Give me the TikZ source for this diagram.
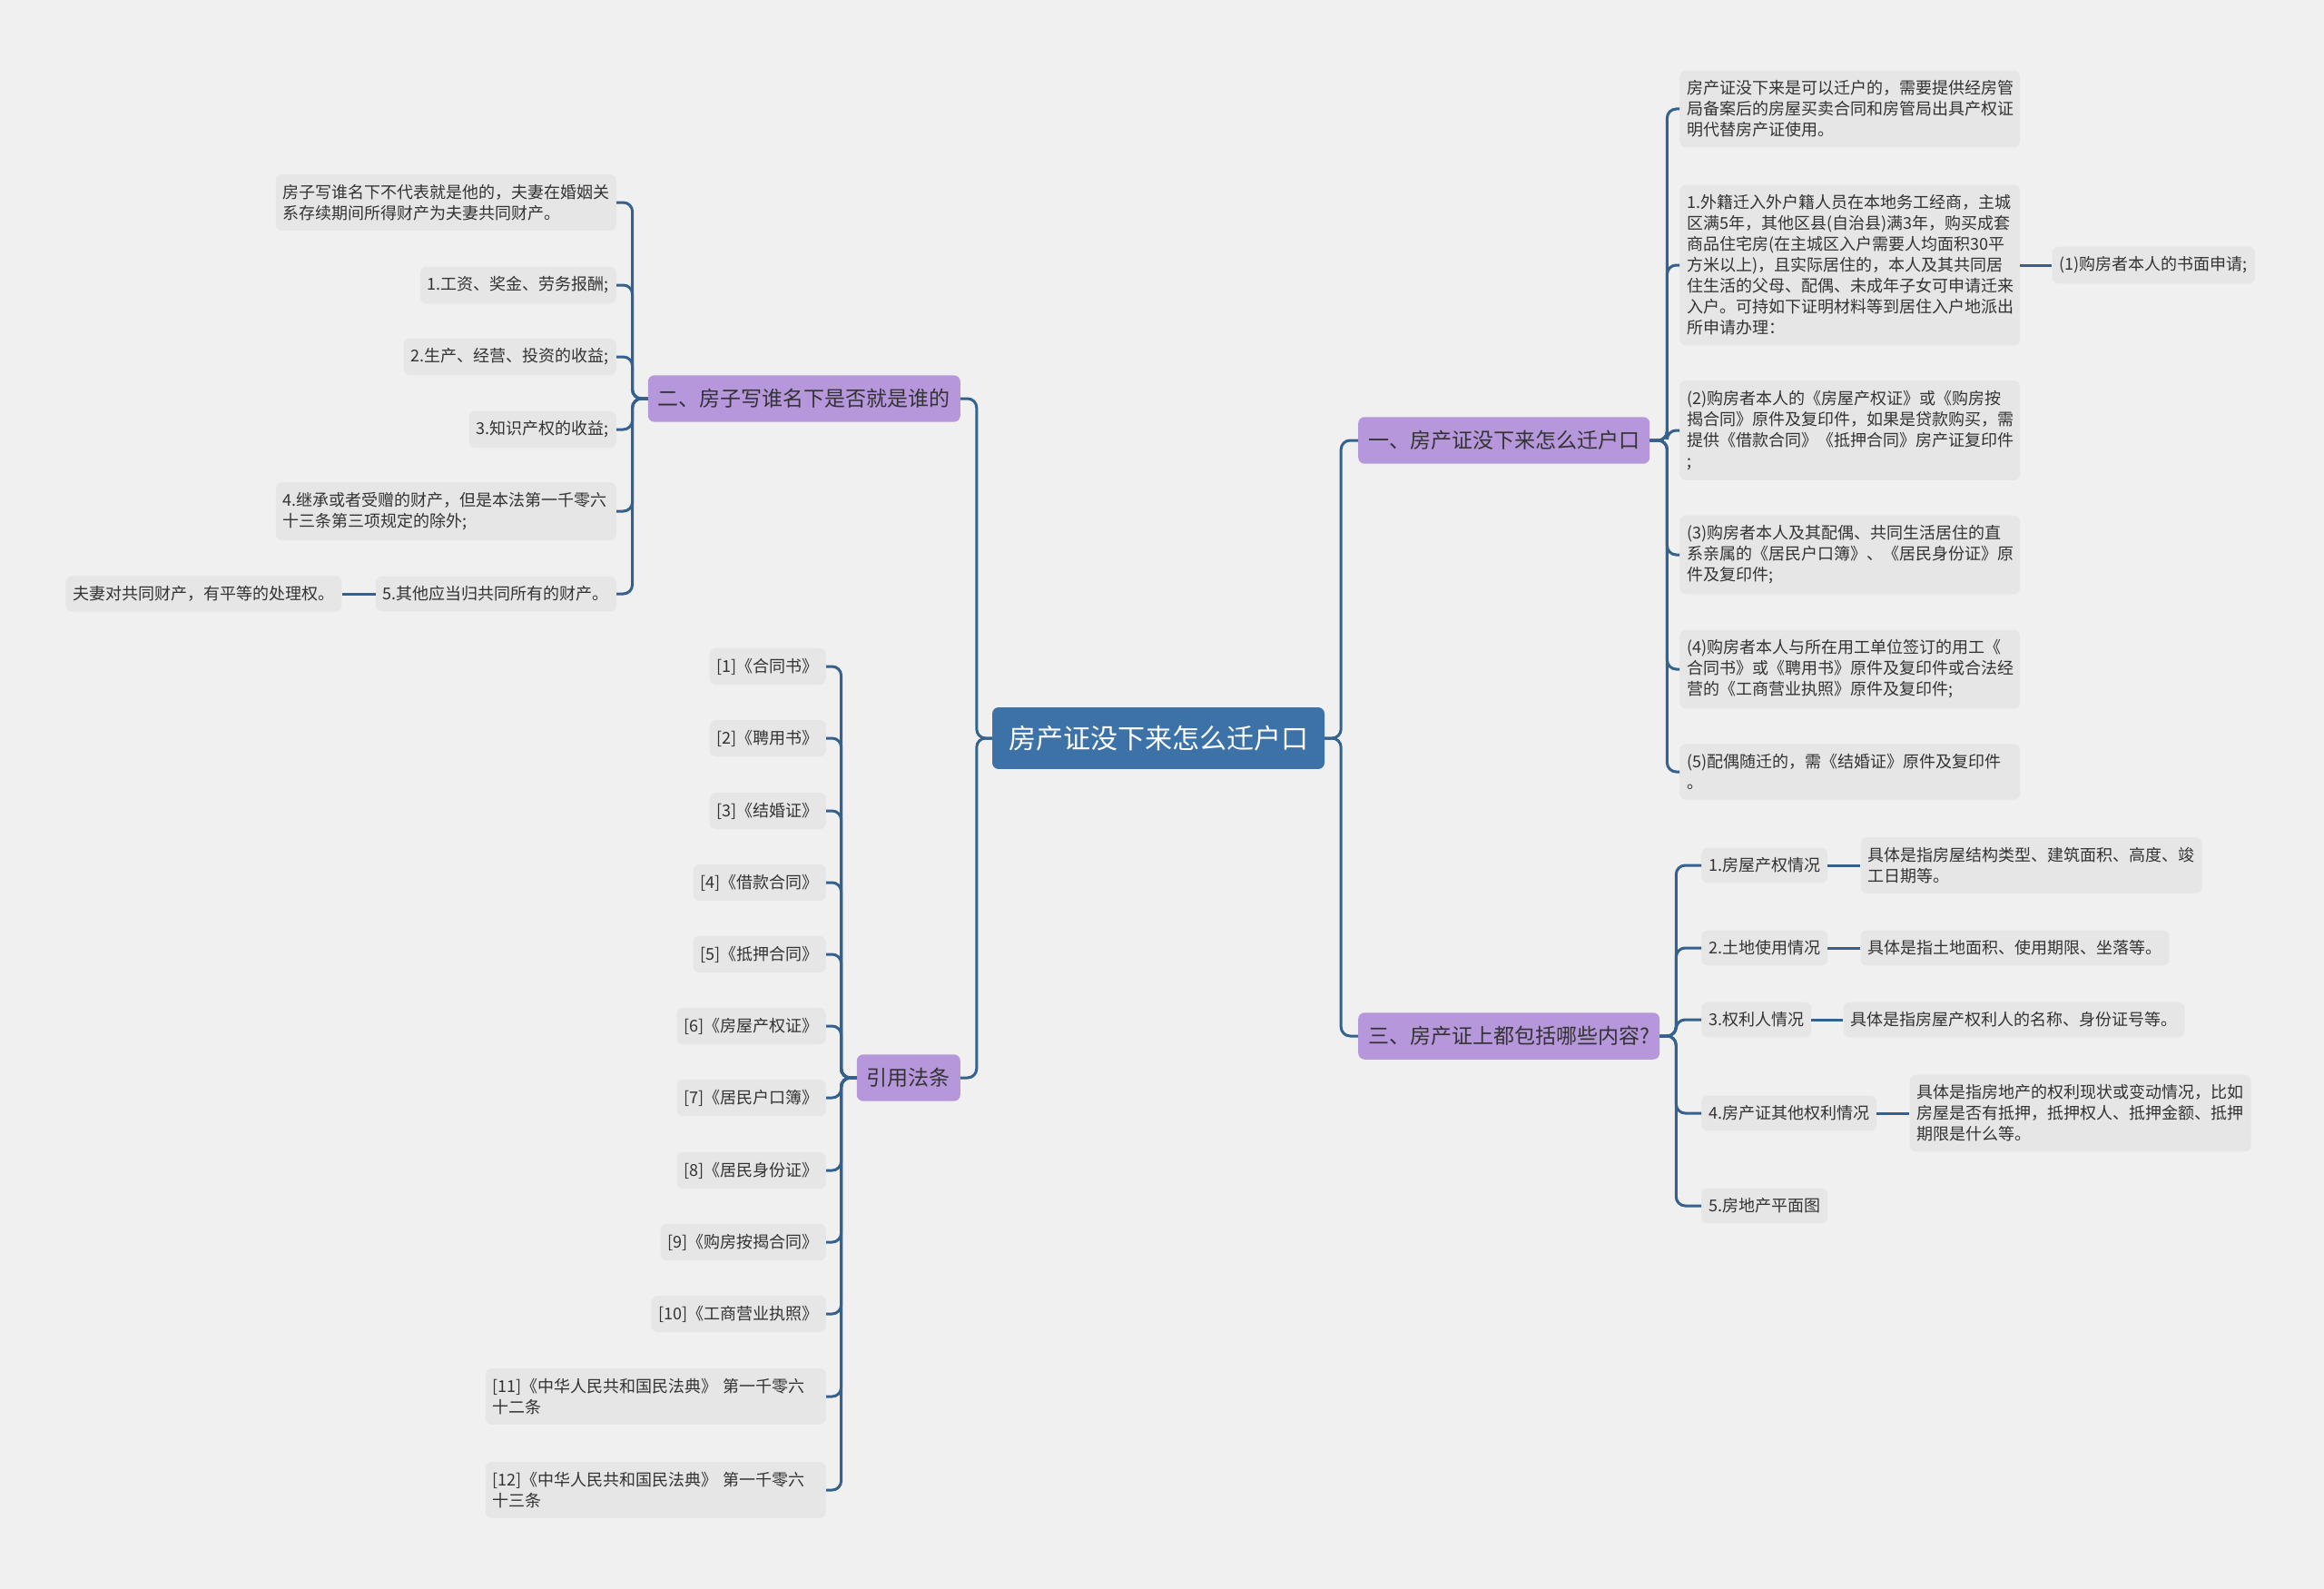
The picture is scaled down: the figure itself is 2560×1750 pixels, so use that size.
\documentclass[tikz,border=0pt]{standalone}
\usepackage{fontspec}
\setmainfont{Noto Sans CJK SC}
\usetikzlibrary{positioning}
\definecolor{bgcol}{HTML}{F0F0F0}
\definecolor{leafcol}{HTML}{E6E6E6}
\definecolor{topiccol}{HTML}{B697DC}
\definecolor{rootcol}{HTML}{3C72A8}
\definecolor{linecol}{HTML}{34618D}
\definecolor{inkcol}{HTML}{333333}
\tikzset{
  rootbox/.style={fill=rootcol, text=white, rounded corners=7pt, inner xsep=18pt, inner ysep=20pt, font=\fontsize{30}{36}\selectfont},
  topicbox/.style={fill=topiccol, text=inkcol, rounded corners=7pt, inner xsep=11pt, inner ysep=15pt, font=\fontsize{23}{28}\selectfont},
  leafbox/.style={fill=leafcol, text=inkcol, rounded corners=7pt, inner xsep=8pt, inner ysep=11pt, align=left, font=\fontsize{18}{23}\selectfont},
  widebox/.style={leafbox, text width=359pt},
  link/.style={draw=linecol, line width=3pt, rounded corners=10pt}
}

\begin{document}
\begin{tikzpicture}[x=1pt, y=-1pt]
\fill[bgcol] (0,0) rectangle (2560,1750);
\useasboundingbox (0,0) rectangle (2560,1750);

% root and main topics
\node[rootbox] (root) at (1276,813) {房产证没下来怎么迁户口};
\node[topicbox, anchor=east] (t2) at (1058,439) {二、房子写谁名下是否就是谁的};
\node[topicbox, anchor=east] (tcite) at (1058,1187) {引用法条};
\node[topicbox, anchor=west] (t1) at (1496,485) {一、房产证没下来怎么迁户口};
\node[topicbox, anchor=west] (t3) at (1496,1141) {三、房产证上都包括哪些内容?};

% topic two
\node[widebox, anchor=east] (a0) at (679,223) {房子写谁名下不代表就是他的，夫妻在婚姻关\\系存续期间所得财产为夫妻共同财产。};
\node[leafbox, anchor=east] (a1) at (679,314) {1.工资、奖金、劳务报酬;};
\node[leafbox, anchor=east] (a2) at (679,393) {2.生产、经营、投资的收益;};
\node[leafbox, anchor=east] (a3) at (679,473) {3.知识产权的收益;};
\node[widebox, anchor=east] (a4) at (679,563) {4.继承或者受赠的财产，但是本法第一千零六\\十三条第三项规定的除外;};
\node[leafbox, anchor=east] (a5) at (679,654) {5.其他应当归共同所有的财产。};
\node[leafbox, left=37pt of a5] (a5x) {夫妻对共同财产，有平等的处理权。};

% cited documents
\node[leafbox, anchor=east] (c1) at (910,734) {[1]《合同书》};
\node[leafbox, anchor=east] (c2) at (910,813) {[2]《聘用书》};
\node[leafbox, anchor=east] (c3) at (910,893) {[3]《结婚证》};
\node[leafbox, anchor=east] (c4) at (910,972) {[4]《借款合同》};
\node[leafbox, anchor=east] (c5) at (910,1051) {[5]《抵押合同》};
\node[leafbox, anchor=east] (c6) at (910,1130) {[6]《房屋产权证》};
\node[leafbox, anchor=east] (c7) at (910,1209) {[7]《居民户口簿》};
\node[leafbox, anchor=east] (c8) at (910,1289) {[8]《居民身份证》};
\node[leafbox, anchor=east] (c9) at (910,1368) {[9]《购房按揭合同》};
\node[leafbox, anchor=east] (c10) at (910,1447) {[10]《工商营业执照》};
\node[widebox, anchor=east] (c11) at (910,1538) {[11]《中华人民共和国民法典》 第一千零六\\十二条};
\node[widebox, anchor=east] (c12) at (910,1641) {[12]《中华人民共和国民法典》 第一千零六\\十三条};

% topic one
\node[widebox, anchor=west] (r0) at (1850,120) {房产证没下来是可以迁户的，需要提供经房管\\局备案后的房屋买卖合同和房管局出具产权证\\明代替房产证使用。};
\node[widebox, anchor=west] (r1) at (1850,292) {1.外籍迁入外户籍人员在本地务工经商，主城\\区满5年，其他区县(自治县)满3年，购买成套\\商品住宅房(在主城区入户需要人均面积30平\\方米以上)，且实际居住的，本人及其共同居\\住生活的父母、配偶、未成年子女可申请迁来\\入户。可持如下证明材料等到居住入户地派出\\所申请办理：};
\node[leafbox, right=35pt of r1] (r1a) {(1)购房者本人的书面申请;};
\node[widebox, anchor=west] (r2) at (1850,474) {(2)购房者本人的《房屋产权证》或《购房按\\揭合同》原件及复印件，如果是贷款购买，需\\提供《借款合同》《抵押合同》房产证复印件\\;};
\node[widebox, anchor=west] (r3) at (1850,611) {(3)购房者本人及其配偶、共同生活居住的直\\系亲属的《居民户口簿》、《居民身份证》原\\件及复印件;};
\node[widebox, anchor=west] (r4) at (1850,737) {(4)购房者本人与所在用工单位签订的用工《\\合同书》或《聘用书》原件及复印件或合法经\\营的《工商营业执照》原件及复印件;};
\node[widebox, anchor=west] (r5) at (1850,850) {(5)配偶随迁的，需《结婚证》原件及复印件\\。};

% topic three
\node[leafbox, anchor=west] (s1) at (1874,953) {1.房屋产权情况};
\node[leafbox, right=36pt of s1] (s1x) {具体是指房屋结构类型、建筑面积、高度、竣\\工日期等。};
\node[leafbox, anchor=west] (s2) at (1874,1044) {2.土地使用情况};
\node[leafbox, right=36pt of s2] (s2x) {具体是指土地面积、使用期限、坐落等。};
\node[leafbox, anchor=west] (s3) at (1874,1123) {3.权利人情况};
\node[leafbox, right=35pt of s3] (s3x) {具体是指房屋产权利人的名称、身份证号等。};
\node[leafbox, anchor=west] (s4) at (1874,1226) {4.房产证其他权利情况};
\node[leafbox, right=36pt of s4] (s4x) {具体是指房地产的权利现状或变动情况，比如\\房屋是否有抵押，抵押权人、抵押金额、抵押\\期限是什么等。};
\node[leafbox, anchor=west] (s5) at (1874,1328) {5.房地产平面图};

% connectors
\draw[link] (root.west) -- ++(-17,0) |- (t2.east);
\draw[link] (root.west) -- ++(-17,0) |- (tcite.east);
\draw[link] (root.east) -- ++(18,0) |- (t1.west);
\draw[link] (root.east) -- ++(18,0) |- (t3.west);
\foreach \n in {a0,a1,a2,a3,a4,a5}
  \draw[link] (t2.west) -- ++(-17,0) |- (\n.east);
\draw[link] (a5.west) -- (a5x.east);
\foreach \i in {1,...,12}
  \draw[link] (tcite.west) -- ++(-17,0) |- (c\i.east);
\foreach \n in {r0,r1,r2,r3,r4,r5}
  \draw[link] (t1.east) -- ++(19,0) |- (\n.west);
\draw[link] (r1.east) -- (r1a.west);
\foreach \n in {s1,s2,s3,s4,s5}
  \draw[link] (t3.east) -- ++(18,0) |- (\n.west);
\foreach \n in {s1,s2,s3,s4}
  \draw[link] (\n.east) -- (\n x.west);
\end{tikzpicture}
\end{document}
